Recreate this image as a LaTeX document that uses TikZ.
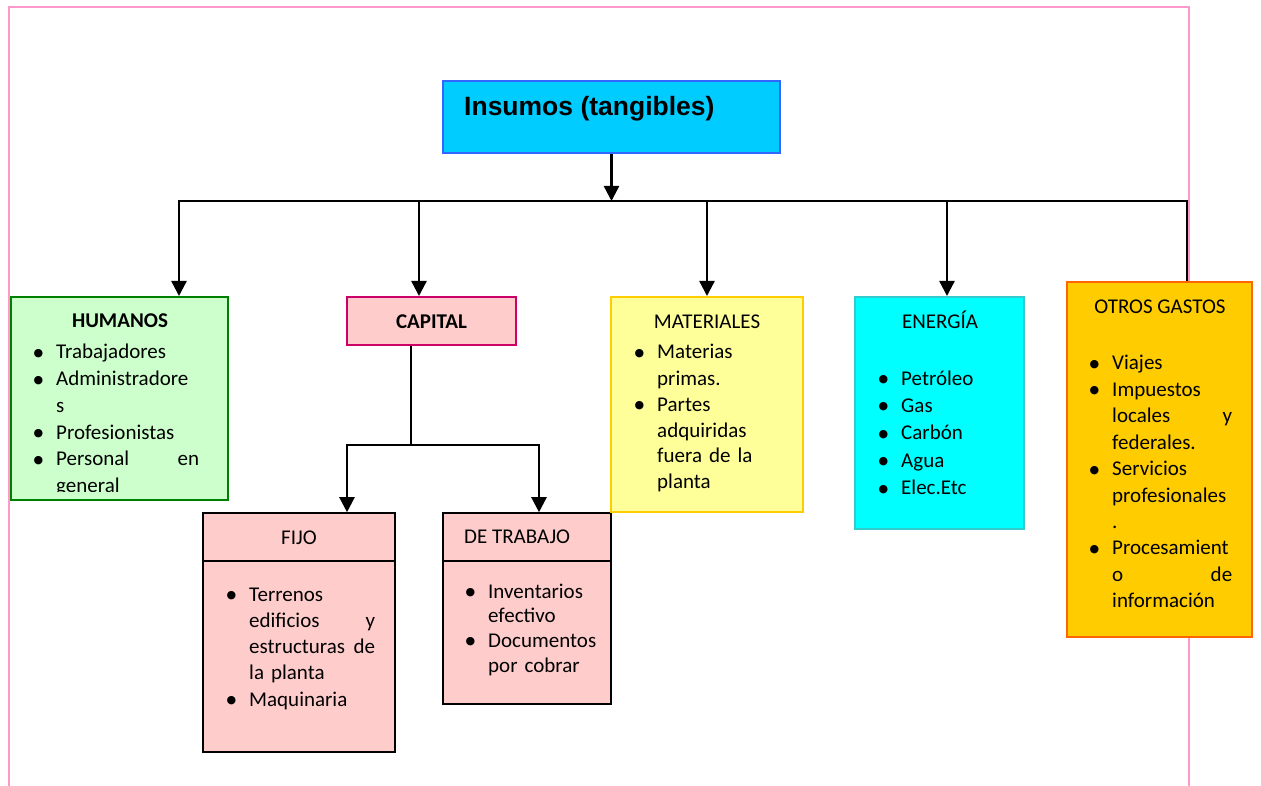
\documentclass[tikz,border=0pt]{standalone}
\usepackage{fontspec}
\setmainfont{Carlito}
\newfontfamily\headfont{Liberation Sans}
\newfontfamily\dotfont{DejaVu Sans}
\usetikzlibrary{arrows.meta}

\definecolor{framepink}{HTML}{FF99CC}
\definecolor{insfill}{HTML}{00CCFF}
\definecolor{insline}{HTML}{3366FF}
\definecolor{humfill}{HTML}{CCFFCC}
\definecolor{humline}{HTML}{008000}
\definecolor{capfill}{HTML}{FFCCCC}
\definecolor{capline}{HTML}{CC0066}
\definecolor{matfill}{HTML}{FFFF99}
\definecolor{matline}{HTML}{FFCC00}
\definecolor{enefill}{HTML}{00FFFF}
\definecolor{eneline}{HTML}{33CCCC}
\definecolor{otrfill}{HTML}{FFCC00}
\definecolor{otrline}{HTML}{FF6600}

% list bullet hung to the left of the item text
\newcommand{\bul}{\leavevmode\llap{\raisebox{2.5pt}{\fontsize{11}{11}\dotfont ●}\hspace{13pt}}}
% a two-part line spread over a given width
\newcommand{\jline}[3]{\leavevmode\makebox[#1][l]{#2\hfill #3}}

\begin{document}
\begin{tikzpicture}[x=1pt,y=-1pt,
  box/.style={draw, line width=2pt, inner sep=0pt},
  link/.style={line width=2.4pt, black},
  arr/.style={link, -{Triangle[width=15pt,length=15pt]}},
  head/.style={inner sep=0pt, anchor=base, font=\fontsize{21}{26}\selectfont},
  lst/.style={inner sep=0pt, anchor=base west, align=left, text width=#1},
]
\useasboundingbox (0,0) rectangle (1261,786);
\fill[white] (0,0) rectangle (1261,786);

% page frame
\draw[framepink, line width=2pt] (9,786) -- (9,7) -- (1189,7) -- (1189,786);

% boxes
\node[box, fill=insfill, draw=insline, minimum width=337pt, minimum height=72pt] (ins) at (611.5,117) {};
\node[box, fill=humfill, draw=humline, minimum width=217pt, minimum height=203pt] (hum) at (119.5,398.5) {};
\node[box, fill=capfill, draw=capline, minimum width=169pt, minimum height=48pt] (cap) at (431.5,321) {};
\node[box, fill=capfill, draw=black, line width=1.6pt, minimum width=192pt, minimum height=239pt] (fijo) at (299,632.5) {};
\node[box, fill=capfill, draw=black, line width=1.6pt, minimum width=168pt, minimum height=191pt] (trab) at (527,608.5) {};
\node[box, fill=matfill, draw=matline, minimum width=192pt, minimum height=215pt] (mat) at (707,404.5) {};
\node[box, fill=enefill, draw=eneline, minimum width=169pt, minimum height=232pt] (ene) at (939.5,413) {};
\node[box, fill=otrfill, draw=otrline, minimum width=185pt, minimum height=355pt] (otr) at (1159.5,459.5) {};

% header rules of the two capital boxes
\draw[line width=1.6pt] (fijo.west |- 0,561) -- (fijo.east |- 0,561);
\draw[line width=1.6pt] (trab.west |- 0,561) -- (trab.east |- 0,561);

% connectors
\coordinate (hub) at (611.5,201);
\coordinate (busL) at (179,201);
\coordinate (busR) at (1187,201);
\coordinate (dCap) at (419,201);
\coordinate (dEne) at (947,201);
\coordinate (split) at (411,445);
\coordinate (sL) at (347,445);
\coordinate (sR) at (539,445);

\draw[arr] (ins.south) -- (hub);
\draw[link, line cap=rect] (busL) -- (busR);
\draw[arr] (busL) -- (busL |- hum.north);
\draw[arr] (dCap) -- (dCap |- cap.north);
\draw[arr] (mat.north |- hub) -- (mat.north);
\draw[arr] (dEne) -- (dEne |- ene.north);
\draw[link] (busR) -- (busR |- otr.north);

\draw[link] (cap.south -| split) -- (split);
\draw[link, line cap=rect] (sL) -- (sR);
\draw[arr] (sL) -- (sL |- fijo.north);
\draw[arr] (sR) -- (sR |- trab.north);

% texts
\node[inner sep=0pt, anchor=base west, font=\headfont\bfseries\fontsize{26.5}{30}\selectfont] (ins-t) at (464,116) {Insumos (tangibles)};

\node[head, font=\bfseries\fontsize{21}{26}\selectfont] (hum-t) at (120,327) {HUMANOS};
\begin{scope}
  \clip (12,298) rectangle (227,491);
  \node[lst=143pt, font=\fontsize{21}{26.7}\selectfont] (hum-l) at (56,359)
    {\bul Trabajadores\\
     \bul Administradore\\
     s\\
     \bul Profesionistas\\
     \bul \jline{143pt}{Personal}{en}\\
     general};
\end{scope}

\node[head, font=\bfseries\fontsize{21}{26}\selectfont] (cap-t) at (431.5,328) {CAPITAL};

\node[head] (fijo-t) at (299,544) {FIJO};
\node[lst=126pt, font=\fontsize{21}{26.25}\selectfont] (fijo-l) at (249,601)
  {\bul Terrenos\\
   \jline{126pt}{edificios}{y}\\
   \jline{126pt}{estructuras}{de}\\
   la planta\\
   \bul Maquinaria};

\node[head, anchor=base west] (trab-t) at (464,543) {DE TRABAJO};
\node[lst=115pt, font=\fontsize{21}{24.7}\selectfont] (trab-l) at (488,598)
  {\bul Inventarios\\
   efectivo\\
   \bul Documentos\\
   por cobrar};

\node[head] (mat-t) at (707,328) {MATERIALES};
\node[lst=130pt, font=\fontsize{21}{26}\selectfont] (mat-l) at (657,359)
  {\bul Materias\\
   primas.\\
   \bul Partes\\
   adquiridas\\
   fuera de la\\
   planta};

\node[head] (ene-t) at (940,328) {ENERGÍA};
\node[lst=110pt, font=\fontsize{21}{27.4}\selectfont] (ene-l) at (901,385)
  {\bul Petróleo\\
   \bul Gas\\
   \bul Carbón\\
   \bul Agua\\
   \bul Elec.Etc};

\node[head] (otr-t) at (1160,313) {OTROS GASTOS};
\node[lst=120pt, font=\fontsize{21}{26.4}\selectfont] (otr-l) at (1112,370)
  {\bul Viajes\\
   \bul Impuestos\\
   \jline{120pt}{locales}{y}\\
   federales.\\
   \bul Servicios\\
   profesionales\\
   .\\
   \bul Procesamient\\
   \jline{120pt}{o}{de}\\
   información};
\end{tikzpicture}
\end{document}
